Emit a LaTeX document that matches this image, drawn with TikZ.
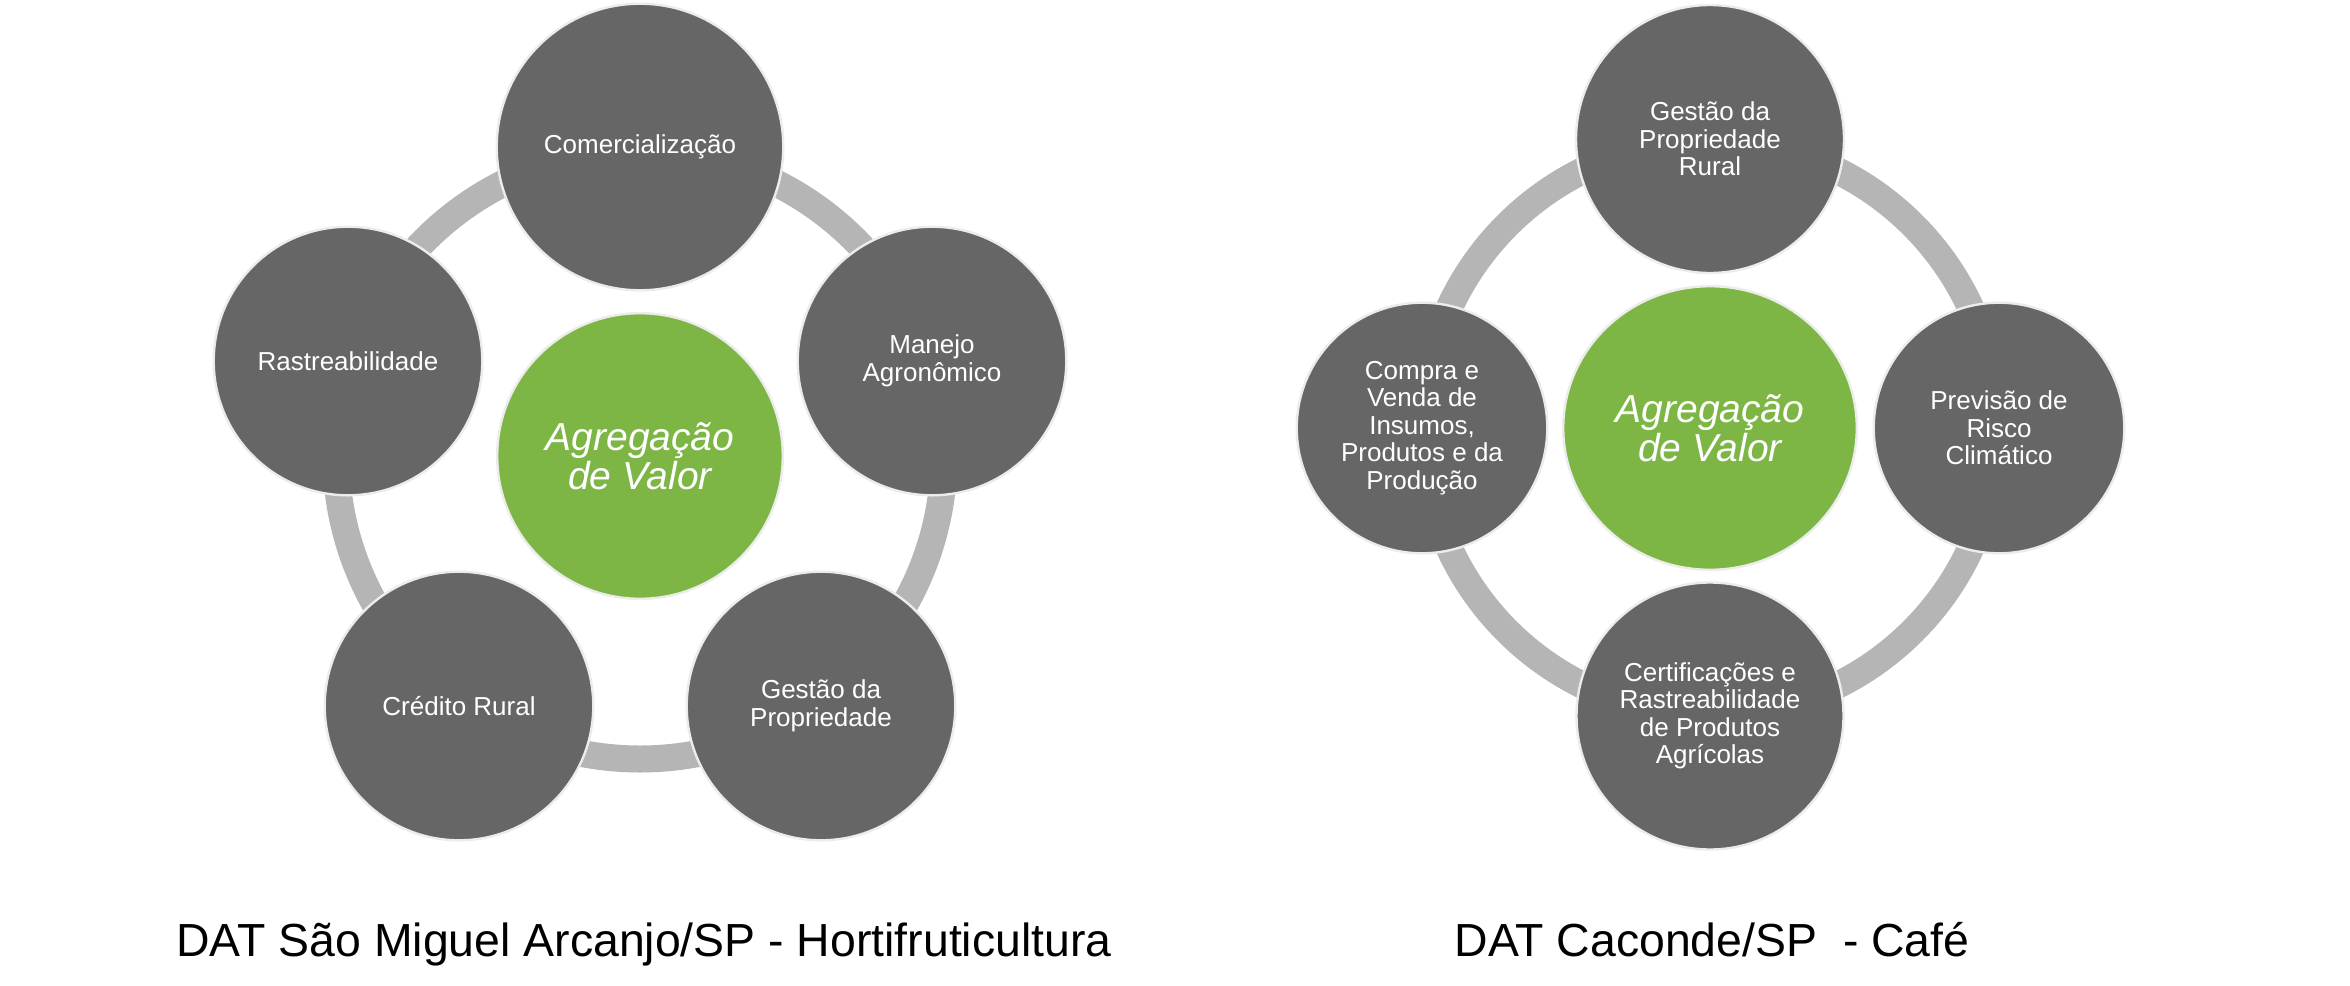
\documentclass[tikz,border=0pt]{standalone}
\usepackage{fontspec}
\setmainfont{Liberation Sans}
\usetikzlibrary{shapes.geometric}
\definecolor{cgray}{RGB}{102,102,102}
\definecolor{cring}{RGB}{181,181,181}
\definecolor{cgreen}{RGB}{125,182,69}
\definecolor{cedge}{RGB}{236,236,236}
\begin{document}
\begin{tikzpicture}[x=0.5pt,y=-0.5pt,
  bub/.style={circle, fill=cgray, draw=cedge, line width=1.2pt, text=white, align=center, inner sep=0pt, font=\fontsize{13}{13.75}\selectfont},
  hub/.style={fill=cgreen, draw=cedge, line width=1.2pt, text=white, align=center, inner sep=0pt, font=\fontsize{19.5}{19.5}\selectfont\itshape},
  ring/.style={draw=cring, line width=13.5pt},
  caption/.style={anchor=base, font=\fontsize{23.2}{27}\selectfont, text=black, inner sep=0pt}]
\fill[white] (0,0) rectangle (2350,985);
\useasboundingbox (0,0) rectangle (2350,985);
% ---------- left panel ----------
\coordinate (cL) at (640,455);
\draw[ring] (cL) circle[radius=152pt];
\node[bub, minimum size=143.3pt] (com) at (640,147) {Comercialização};
\node[bub, minimum size=134.3pt] (man) at (932,361) {Manejo\\Agronômico};
\node[bub, minimum size=134.3pt] (gesL) at (821,706) {Gestão da\\Propriedade};
\node[bub, minimum size=134.3pt] (cre) at (459,706) {Crédito Rural};
\node[bub, minimum size=134.3pt] (ras) at (348,361) {Rastreabilidade};
\node[hub, circle, minimum size=142.8pt] (hubL) at (640,456) {Agregação\\de Valor};
\node[caption] (capL) at (644,956) {DAT São Miguel Arcanjo/SP - Hortifruticultura};
% ---------- right panel ----------
\coordinate (cR) at (1710,428);
\draw[ring] (cR) circle[radius=143.5pt];
\node[bub, minimum size=134pt] (gesR) at (1710,139) {Gestão da\\Propriedade\\Rural};
\node[bub, minimum size=125.3pt] (prev) at (1999,428) {Previsão de\\Risco\\Climático};
\node[bub, minimum size=133.5pt] (cert) at (1710,716) {Certificações e\\Rastreabilidade\\de Produtos\\Agrícolas};
\node[bub, minimum size=125.3pt] (comp) at (1422,428) {Compra e\\Venda de\\Insumos,\\Produtos e da\\Produção};
\node[hub, ellipse, minimum width=146.8pt, minimum height=141.8pt] (hubR) at (1710,428) {Agregação\\de Valor};
\node[caption] (capR) at (1712,956) {DAT Caconde/SP~~- Café};
\end{tikzpicture}
\end{document}
